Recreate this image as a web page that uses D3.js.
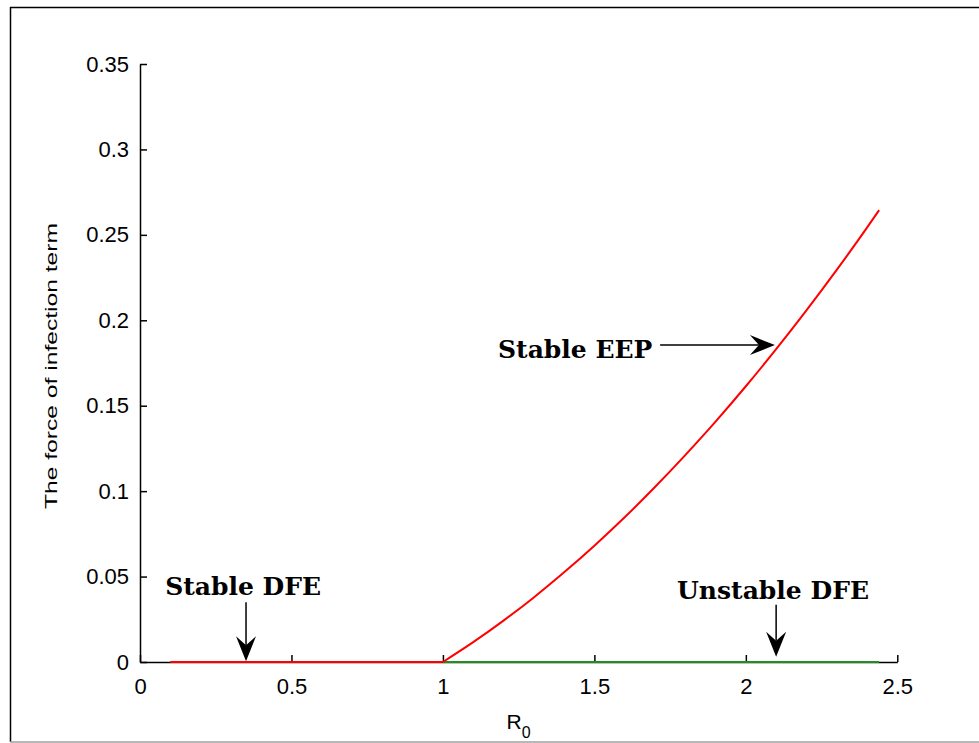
<!DOCTYPE html>
<html>
<head>
<meta charset="utf-8">
<script src="https://cdn.jsdelivr.net/npm/d3@7"></script>
<style>
  html, body { margin: 0; padding: 0; background: #fff; }
  svg { display: block; }
</style>
</head>
<body>
<svg id="chart" width="979" height="743"></svg>
<script>
// Bifurcation diagram: force of infection at equilibrium versus R0
const xTicks = [0, 0.5, 1, 1.5, 2, 2.5];
const yTicks = [0, 0.05, 0.1, 0.15, 0.2, 0.25, 0.3, 0.35];

// Disease-free equilibrium, stable branch (R0 < 1)
const dfeStableR0 = [0.1, 1.0];
const dfeStableVal = [0, 0];

// Disease-free equilibrium, unstable branch (R0 > 1)
const dfeUnstableR0 = [1.0, 2.44];
const dfeUnstableVal = [0, 0];

// Endemic equilibrium branch
const eepR0 = [1.0, 1.1, 1.2, 1.3, 1.4, 1.5, 1.6, 1.7, 1.8, 1.9, 2.0, 2.1, 2.2, 2.3, 2.4, 2.44];
const eepVal = [0, 0.0116, 0.0242, 0.0378, 0.0525, 0.0681, 0.0847, 0.1024, 0.1211, 0.1407, 0.1614, 0.1831, 0.2058, 0.2295, 0.2542, 0.2645];

// Annotations: label anchor and arrow (tail -> tip), in data units
const notes = [
  { text: "Stable DFE",   tx: 0.083, ty: 0.0392, ax0: 0.35,  ay0: 0.035,  ax1: 0.35,  ay1: 0.0005 },
  { text: "Unstable DFE", tx: 1.773, ty: 0.0369, ax0: 2.1,   ay0: 0.0335, ax1: 2.1,   ay1: 0.003 },
  { text: "Stable EEP",   tx: 1.182, ty: 0.178,  ax0: 1.717, ay0: 0.1855, ax1: 2.096, ay1: 0.1855 }
];

const svg = d3.select("#chart");

// window frame lines
svg.append("line").attr("x1", 10).attr("y1", 7.5).attr("x2", 979).attr("y2", 7.5)
  .attr("stroke", "#000").attr("stroke-width", 1.5);
svg.append("line").attr("x1", 10.5).attr("y1", 7).attr("x2", 10.5).attr("y2", 742)
  .attr("stroke", "#000").attr("stroke-width", 1.5);
svg.append("line").attr("x1", 10).attr("y1", 742).attr("x2", 979).attr("y2", 742)
  .attr("stroke", "#a0a0a0").attr("stroke-width", 1.5);

const x = d3.scaleLinear().domain([0, 2.5]).range([140, 897.3]);
const y = d3.scaleLinear().domain([0, 0.35]).range([662, 64]);

const tickFont = "'Liberation Sans', Arial, sans-serif";

// axes, ticks pointing inward
const xAxis = d3.axisBottom(x).tickValues(xTicks).tickSizeInner(-7).tickSizeOuter(0)
  .tickPadding(16).tickFormat(d3.format("~g"));
const yAxis = d3.axisLeft(y).tickValues(yTicks).tickSizeInner(-7).tickSizeOuter(0)
  .tickPadding(11).tickFormat(d3.format("~g"));

const gx = svg.append("g").attr("transform", `translate(0,${y(0)})`).call(xAxis);
const gy = svg.append("g").attr("transform", `translate(${x(0)},0)`).call(yAxis);

[gx, gy].forEach(g => {
  g.select(".domain").attr("stroke", "#000").attr("stroke-width", 1.5);
  g.selectAll(".tick line").attr("stroke", "#000").attr("stroke-width", 1.5);
  g.selectAll(".tick text").attr("fill", "#000")
    .style("font-family", tickFont).style("font-size", "22px");
});

// branches
const line = d3.line().x(d => x(d[0])).y(d => y(d[1]));
const curve = d3.line().x(d => x(d[0])).y(d => y(d[1])).curve(d3.curveMonotoneX);

svg.append("path").datum(dfeStableR0.map((r, i) => [r, dfeStableVal[i]]))
  .attr("d", line).attr("fill", "none").attr("stroke", "#ff0000").attr("stroke-width", 2);
svg.append("path").datum(dfeUnstableR0.map((r, i) => [r, dfeUnstableVal[i]]))
  .attr("d", line).attr("fill", "none").attr("stroke", "#1f8f1f").attr("stroke-width", 2.2);
svg.append("path").datum(eepR0.map((r, i) => [r, eepVal[i]]))
  .attr("d", curve).attr("fill", "none").attr("stroke", "#ff0000").attr("stroke-width", 2);

// annotation labels and arrows
const noteFont = "'DejaVu Serif', serif";
notes.forEach(n => {
  svg.append("text").attr("x", x(n.tx)).attr("y", y(n.ty))
    .style("font-family", noteFont).style("font-weight", "bold").style("font-size", "25px")
    .attr("fill", "#000").text(n.text);

  const x0 = x(n.ax0), y0 = y(n.ay0), x1 = x(n.ax1), y1 = y(n.ay1);
  const ang = Math.atan2(y1 - y0, x1 - x0);
  const L = 25, W = 10, notch = 9;
  const ux = Math.cos(ang), uy = Math.sin(ang), px = -uy, py = ux;
  const bx = x1 - ux * L, by = y1 - uy * L;
  const nx = x1 - ux * (L - notch), ny = y1 - uy * (L - notch);

  svg.append("line").attr("x1", x0).attr("y1", y0).attr("x2", nx).attr("y2", ny)
    .attr("stroke", "#000").attr("stroke-width", 1.5);
  svg.append("path")
    .attr("d", `M${x1},${y1}L${bx + px * W},${by + py * W}L${nx},${ny}L${bx - px * W},${by - py * W}Z`)
    .attr("fill", "#000");
});

// axis labels
svg.append("text")
  .attr("transform", `translate(57,${366}) rotate(-90)`)
  .attr("text-anchor", "middle")
  .attr("textLength", 286).attr("lengthAdjust", "spacingAndGlyphs")
  .style("font-family", tickFont).style("font-size", "16px").attr("fill", "#000")
  .text("The force of infection term");

const xl = svg.append("text").attr("x", x(1.25)).attr("y", 729)
  .attr("text-anchor", "middle")
  .style("font-family", tickFont).style("font-size", "21px").attr("fill", "#000");
xl.append("tspan").text("R");
xl.append("tspan").attr("dy", 9).style("font-size", "16px").text("0");
</script>
</body>
</html>
